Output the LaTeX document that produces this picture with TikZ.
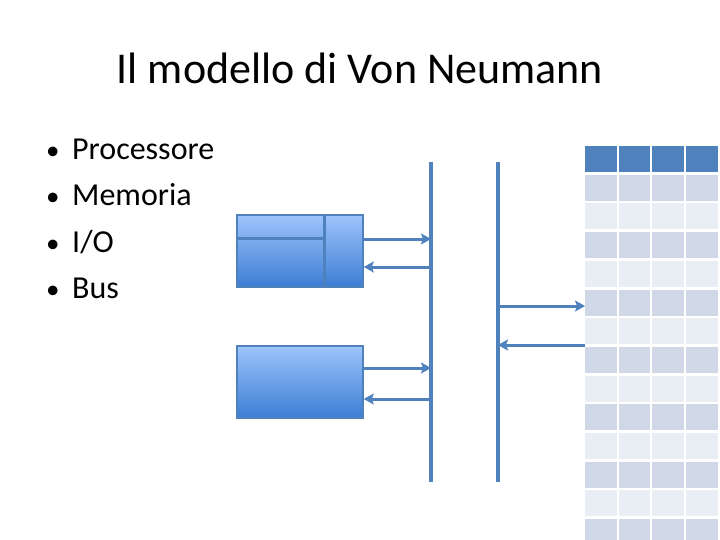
\documentclass[tikz,border=0pt]{standalone}
\usepackage{fontspec}
\setmainfont{Carlito}
\usetikzlibrary{positioning,arrows.meta,calc}

\definecolor{busblue}{RGB}{79,129,189}
\definecolor{boxtop}{RGB}{158,196,252}
\definecolor{boxbot}{RGB}{60,125,211}
\definecolor{headblue}{RGB}{79,129,189}
\definecolor{rowdark}{RGB}{208,216,232}
\definecolor{rowlight}{RGB}{233,237,244}

\tikzset{
  unit/.style={draw=busblue,line width=1.5pt,top color=boxtop,bottom color=boxbot,
    minimum width=126pt,minimum height=72pt,inner sep=0pt},
  bus/.style={draw=busblue,line width=3.2pt},
  link/.style={draw=busblue,line width=3pt,-{Stealth[length=10pt,width=11pt,inset=2pt]}},
  item/.style={anchor=base west,inner sep=0pt,font=\fontsize{32}{38}\selectfont}
}

\begin{document}
\begin{tikzpicture}[x=1pt,y=-1pt]
  \useasboundingbox (0,0) rectangle (720,540);
  \clip (0,0) rectangle (720,540);
  \node[anchor=base,inner sep=0pt,font=\fontsize{44}{52}\selectfont] (title) at (360,84) {Il modello di Von Neumann};
  % elenco
  \foreach \t [count=\i] in {Processore,Memoria,I/O,Bus} {
    \node[item,font=\fontsize{27}{30}\selectfont] (dot\i) at (46,114+46*\i) {•};
    \node[item] (txt\i) at (72,114+46*\i) {\t};
  }
  % processore e I/O
  \node[unit] (cpu) at (300,251) {};
  \draw[busblue,line width=3pt] ($(cpu.north west)+(0,24)$) -- ++(88,0);
  \draw[busblue,line width=3pt] ($(cpu.north west)+(88,0)$) coordinate (split) -- (split |- cpu.south);
  \node[unit] (io) at (300,382) {};
  % bus
  \coordinate (bus1a) at (431,162);
  \coordinate (bus1b) at (431,482);
  \coordinate (bus2a) at (498,162);
  \coordinate (bus2b) at (498,482);
  \draw[bus] (bus1a) -- (bus1b);
  \draw[bus] (bus2a) -- (bus2b);
  \draw[link] ([yshift=12pt]cpu.east) -- ([yshift=12pt]cpu.east -| bus1a);
  \draw[link] ([yshift=-16pt]cpu.east -| bus1a) -- ([yshift=-16pt]cpu.east);
  \draw[link] ([yshift=14pt]io.east) -- ([yshift=14pt]io.east -| bus1a);
  \draw[link] ([yshift=-17pt]io.east -| bus1a) -- ([yshift=-17pt]io.east);
  % memoria
  \coordinate (mem1) at (585,306);
  \coordinate (mem2) at (585,345);
  \draw[link] (mem1 -| bus2a) -- (mem1);
  \draw[link] (mem2) -- (mem2 -| bus2a);
  \foreach \r in {0,...,13} {
    \ifnum\r=0 \def\cc{headblue}\else\ifodd\r \def\cc{rowdark}\else\def\cc{rowlight}\fi\fi
    \foreach \c in {0,...,3}
      \fill[\cc] (585+\c*33.7,146+\r*28.7) rectangle ++(31.5,26);
  }
\end{tikzpicture}
\end{document}
